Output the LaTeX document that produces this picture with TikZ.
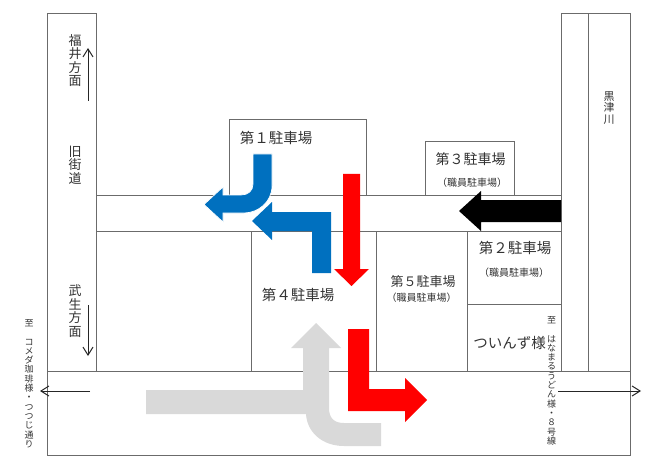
\documentclass[tikz,border=0pt]{standalone}
\usepackage{fontspec}
\setmainfont{Noto Sans CJK JP}
\usepackage{tikz}
\usetikzlibrary{arrows.meta}
\definecolor{Roadline}{rgb}{0.42,0.42,0.42}
\definecolor{Bluearrow}{rgb}{0,0.44,0.75}
\definecolor{Greyarrow}{rgb}{0.85,0.85,0.85}
\tikzset{
roadline/.style={draw=Roadline, line width=1pt},
lotlabel/.style={inner sep=0pt, text=black!80, font=\fontsize{14.5}{14.5}\selectfont},
stafflabel/.style={inner sep=0pt, text=black!80, font=\fontsize{10}{10}\selectfont},
sidelabel/.style={inner sep=0pt, align=center, text=black!80, font=\fontsize{13}{13.6}\selectfont},
tinylabel/.style={inner sep=0pt, align=center, text=black!80, font=\fontsize{9}{9.3}\selectfont},
thinarrow/.style={draw=black!85, line width=1pt, -{Straight Barb[length=8pt,width=10pt]}}
}
\begin{document}
\begin{tikzpicture}[x=1pt,y=-1pt]
\useasboundingbox (0,0) rectangle (648,476);
%Roads and lots
\draw[roadline] (96,371) -- (96,14) -- (47,14) -- (47,455) -- (630,455) -- (630,14) -- (561,14) -- (561,371);
\draw[roadline] (588,14) -- (588,371);
\draw[roadline] (47,371) -- (630,371);
\draw[roadline] (96,195) -- (561,195);
\draw[roadline] (96,231) -- (561,231);
\draw[roadline] (229,195) -- (229,120) -- (366,120) -- (366,195);
\draw[roadline] (425,195) -- (425,142) -- (514,142) -- (514,195);
\draw[roadline] (251,231) -- (251,371);
\draw[roadline] (376,231) -- (376,371);
\draw[roadline] (467,231) -- (467,371);
\draw[roadline] (467,304) -- (561,304);
%Nodes
\node[lotlabel] (lotone) at (276,138) {第１駐車場};
\node[lotlabel, font=\fontsize{14}{14}\selectfont] (lotthree) at (470.5,159) {第３駐車場};
\node[stafflabel] (staffthree) at (472,183) {（職員駐車場）};
\node[lotlabel] (lottwo) at (515,248) {第２駐車場};
\node[stafflabel] (stafftwo) at (514,273) {（職員駐車場）};
\node[lotlabel, font=\fontsize{13}{13}\selectfont] (lotfive) at (423,282) {第５駐車場};
\node[stafflabel] (stafffive) at (421.5,298) {（職員駐車場）};
\node[lotlabel] (lotfour) at (298,295) {第４駐車場};
\node[lotlabel] (twins) at (509.5,343) {ついんず様};
\node[sidelabel] (fukui) at (75,60.5) {福\\井\\方\\面};
\node[sidelabel] (oldroad) at (75,165) {旧\\街\\道};
\node[sidelabel] (takefu) at (75,311) {武\\生\\方\\面};
\node[tinylabel, font=\fontsize{11}{11.5}\selectfont] (river) at (609,108) {黒\\津\\川};
\node[tinylabel, anchor=north] (towest) at (29,319.5) {至\\[9pt]コ\\メ\\ダ\\珈\\琲\\様\\・\\つ\\つ\\じ\\通\\り};
\node[tinylabel, anchor=north] (toeast) at (551.5,316.5) {至\\[9pt]は\\な\\ま\\る\\う\\ど\\ん\\様\\・\\８\\号\\線};
%Direction arrows
\coordinate (upstart) at (88,101);
\coordinate (upend) at (88,48);
\coordinate (downstart) at (88,305);
\coordinate (downend) at (88,356);
\coordinate (weststart) at (90,391);
\coordinate (westend) at (40,391);
\coordinate (eaststart) at (558,391);
\coordinate (eastend) at (641,391);
\draw[thinarrow] (upstart) -- (upend);
\draw[thinarrow] (downstart) -- (downend);
\draw[thinarrow] (weststart) -- (westend);
\draw[thinarrow] (eaststart) -- (eastend);
%Route arrows
\fill[Greyarrow] (146,390) -- (303,390) -- (303,348) -- (291,348) -- (316,323) -- (341,348) -- (329,348) -- (329,408)
  .. controls (329,418) and (334,423) .. (344,423) -- (381,423) -- (381,446) -- (344,446)
  .. controls (322,446) and (307,432) .. (306,414) -- (146,414) -- cycle;
\fill[red] (348,329) -- (369,329) -- (369,389) -- (405,389) -- (405,378) -- (427,400) -- (405,422) -- (405,411) -- (348,411) -- cycle;
\fill[black] (561,200) -- (481,200) -- (481,191) -- (459,211) -- (481,231) -- (481,222) -- (561,222) -- cycle;
\filldraw[fill=Bluearrow, draw=white, line width=0.7pt] (253,154) -- (272,154) -- (272,186)
  .. controls (272,202) and (258,213) .. (244,213) -- (223,213) -- (223,222) -- (204,204.5) -- (223,187) -- (223,195) -- (241,195)
  .. controls (248,195) and (253,191) .. (253,184) -- cycle;
\fill[Bluearrow] (331,273) -- (312,273) -- (312,231) -- (272,231) -- (272,240) -- (252,221) -- (272,202) -- (272,212) -- (331,212) -- cycle;
\fill[red] (343,174) -- (360,174) -- (360,269) -- (369,269) -- (351.5,286) -- (334,269) -- (343,269) -- cycle;
\end{tikzpicture}
\end{document}
